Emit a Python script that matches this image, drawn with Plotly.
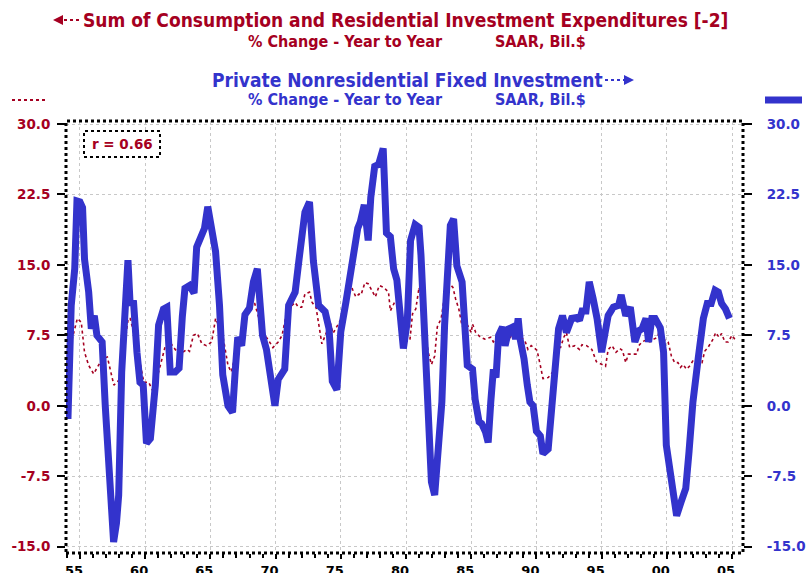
import plotly.graph_objects as go

# Private Nonresidential Fixed Investment, % chg yoy (right axis)
inv_yr = [1954.08, 1954.33, 1954.6, 1954.77, 1955.0, 1955.2, 1955.35, 1955.67, 1955.87, 1956.1,
          1956.3, 1956.7, 1956.94, 1957.2, 1957.45, 1957.58, 1957.8, 1957.97, 1958.2, 1958.47,
          1958.68, 1958.85, 1959.1, 1959.37, 1959.6, 1959.85, 1960.1, 1960.4, 1960.78, 1961.03,
          1961.4, 1961.66, 1961.92, 1962.3, 1962.6, 1962.85, 1963.05, 1963.4, 1963.75, 1963.95,
          1964.3, 1964.55, 1964.8, 1965.05, 1965.4, 1965.7, 1965.95, 1966.35, 1966.7, 1966.9,
          1967.1, 1967.4, 1967.65, 1968.0, 1968.3, 1968.6, 1968.8, 1969.0, 1969.3, 1969.6,
          1969.95, 1970.2, 1970.5, 1970.7, 1971.0, 1971.5, 1971.8, 1972.25, 1972.6, 1972.9,
          1973.3, 1973.8, 1974.1, 1974.35, 1974.7, 1975.0, 1975.4, 1975.75, 1976.3, 1976.5,
          1976.8, 1977.1, 1977.3, 1977.6, 1977.9, 1978.25, 1978.5, 1978.8, 1979.05, 1979.3,
          1979.6, 1979.8, 1980.1, 1980.35, 1980.7, 1981.0, 1981.15, 1981.5, 1981.7, 1981.95,
          1982.2, 1982.5, 1982.75, 1982.96, 1983.2, 1983.4, 1983.65, 1983.9, 1984.3, 1984.55,
          1984.7, 1985.1, 1985.3, 1985.6, 1985.8, 1986.1, 1986.3, 1986.5, 1986.7, 1986.9,
          1987.1, 1987.4, 1987.6, 1987.9, 1988.2, 1988.4, 1988.6, 1988.75, 1989.05, 1989.3,
          1989.5, 1989.75, 1990.0, 1990.3, 1990.5, 1990.9, 1991.15, 1991.4, 1991.7, 1992.0,
          1992.3, 1992.7, 1993.1, 1993.3, 1993.5, 1993.8, 1994.05, 1994.35, 1994.65, 1995.0,
          1995.2, 1995.5, 1995.9, 1996.3, 1996.5, 1996.85, 1997.2, 1997.55, 1997.85, 1998.1,
          1998.4, 1998.6, 1998.85, 1999.1, 1999.5, 1999.75, 1999.96, 2000.3, 2000.75, 2001.1,
          2001.45, 2001.7, 2002.0, 2002.4, 2002.8, 2003.1, 2003.4, 2003.7, 2003.95, 2004.2,
          2004.5, 2004.8]
inv_val = [-1.4, 10.7, 14.6, 21.8, 21.7, 21.1, 15.6, 12.1, 8.2, 9.6,
           7.5, 6.8, 0.0, -6.7, -13.0, -14.5, -12.5, -9.5, 3.6, 10.7,
           15.5, 10.7, 11.2, 5.7, 2.5, 2.2, -4.0, -3.5, 2.2, 8.6,
           10.3, 10.5, 3.6, 3.6, 4.0, 9.5, 12.5, 12.8, 12.0, 16.9,
           18.4, 18.9, 21.2, 18.9, 16.4, 10.7, 3.3, 0.0, -0.7, 3.6,
           7.3, 6.4, 9.7, 10.4, 13.2, 14.6, 11.4, 7.5, 6.0, 3.6,
           0.0, 2.8, 3.6, 3.9, 10.7, 12.1, 15.6, 20.6, 21.7, 15.4,
           10.7, 10.0, 8.2, 2.6, 1.7, 7.9, 11.1, 14.3, 18.9, 19.6,
           21.4, 17.6, 22.2, 25.5, 25.7, 27.4, 18.4, 18.0, 14.6, 13.4,
           9.3, 6.1, 9.0, 17.6, 19.3, 19.0, 16.0, 5.7, -3.2, -8.1,
           -9.5, -4.9, 0.4, 8.6, 14.9, 19.2, 19.9, 14.9, 13.2, 7.9,
           4.3, 3.9, 0.7, -1.7, -1.9, -2.8, -3.9, 0.4, 3.9, 3.0,
           7.5, 8.4, 6.4, 8.2, 8.4, 7.1, 9.3, 7.1, 5.0, 2.2,
           0.4, 0.0, -2.7, -3.2, -5.1, -4.6, -0.3, 5.0, 8.2, 9.6,
           7.8, 9.3, 9.4, 9.1, 10.1, 10.1, 13.2, 11.4, 9.3, 5.7,
           7.1, 9.6, 10.5, 10.7, 11.8, 9.6, 10.5, 6.8, 8.0, 8.2,
           9.3, 6.8, 9.3, 9.3, 8.3, 5.7, -4.2, -7.0, -11.7, -10.2,
           -8.8, -4.9, 0.4, 5.0, 9.3, 10.9, 10.9, 12.3, 12.1, 10.9,
           10.3, 9.3]

# Consumption + residential investment, % chg yoy, lagged 2 qtrs (left axis)
cons_yr = [1954.1, 1954.4, 1954.8, 1955.1, 1955.35, 1955.67, 1956.05, 1956.4, 1956.7, 1957.1,
           1957.6, 1957.97, 1958.35, 1958.7, 1958.85, 1959.25, 1959.55, 1959.9, 1960.27, 1960.65,
           1961.03, 1961.55, 1961.9, 1962.3, 1962.7, 1963.2, 1963.4, 1963.7, 1964.0, 1964.35,
           1964.7, 1965.1, 1965.4, 1965.7, 1965.95, 1966.35, 1966.6, 1966.9, 1967.1, 1967.4,
           1967.65, 1967.9, 1968.15, 1968.4, 1968.65, 1969.05, 1969.4, 1969.8, 1970.2, 1970.5,
           1970.8, 1971.05, 1971.5, 1971.75, 1972.0, 1972.25, 1972.6, 1972.8, 1973.1, 1973.55,
           1973.9, 1974.2, 1974.4, 1974.7, 1975.05, 1975.3, 1975.6, 1975.9, 1976.15, 1976.4,
           1976.55, 1976.85, 1977.1, 1977.65, 1977.95, 1978.3, 1978.66, 1978.8, 1979.15, 1979.6,
           1979.9, 1980.3, 1980.5, 1980.75, 1981.0, 1981.3, 1981.5, 1981.7, 1981.95, 1982.2,
           1982.4, 1982.7, 1982.9, 1983.2, 1983.6, 1983.8, 1984.05, 1984.3, 1984.5, 1984.75,
           1985.0, 1985.1, 1985.35, 1985.7, 1986.05, 1986.5, 1986.7, 1987.1, 1987.4, 1987.6,
           1988.0, 1988.4, 1988.75, 1989.1, 1989.35, 1989.6, 1989.8, 1990.05, 1990.3, 1990.5,
           1990.9, 1991.25, 1991.5, 1991.85, 1992.1, 1992.3, 1992.55, 1992.95, 1993.3, 1993.5,
           1993.85, 1994.25, 1994.6, 1995.0, 1995.3, 1995.5, 1995.8, 1996.1, 1996.4, 1996.6,
           1996.85, 1997.05, 1997.4, 1997.7, 1997.85, 1998.1, 1998.4, 1998.7, 1999.0, 1999.3,
           1999.45, 1999.7, 2000.1, 2000.35, 2000.6, 2000.85, 2001.05, 2001.25, 2001.5, 2001.8,
           2002.0, 2002.3, 2002.5, 2002.7, 2002.9, 2003.15, 2003.5, 2003.75, 2004.0, 2004.2,
           2004.45, 2004.7, 2005.0, 2005.25]
cons_val = [3.2, 7.1, 9.3, 8.9, 5.7, 4.3, 3.4, 4.3, 5.0, 5.2,
            2.2, 2.7, 5.7, 9.3, 9.3, 7.1, 5.0, 2.5, 2.5, 1.4,
            3.6, 6.4, 6.8, 6.0, 5.5, 6.0, 5.8, 7.5, 7.7, 6.6,
            6.4, 6.8, 9.3, 8.4, 7.5, 4.3, 3.6, 5.3, 5.7, 7.5,
            9.3, 9.8, 11.2, 10.9, 9.6, 7.7, 7.1, 6.2, 6.8, 7.5,
            9.6, 10.4, 11.0, 10.5, 10.5, 11.9, 12.1, 11.0, 10.5, 6.6,
            7.8, 8.8, 7.7, 8.4, 9.3, 11.0, 13.5, 12.4, 11.6, 11.9,
            11.8, 13.1, 13.0, 11.6, 12.8, 12.6, 12.1, 10.1, 11.1, 10.7,
            6.8, 7.0, 9.8, 10.3, 12.6, 10.3, 7.9, 5.7, 4.4, 5.3,
            8.4, 9.3, 11.2, 13.2, 12.6, 11.4, 10.3, 8.5, 8.2, 8.5,
            7.8, 8.7, 7.8, 7.3, 7.1, 7.3, 6.8, 7.3, 6.8, 7.7,
            7.3, 8.4, 7.3, 7.0, 6.0, 6.4, 6.2, 5.9, 4.3, 2.9,
            3.0, 3.6, 6.2, 6.2, 7.3, 7.8, 6.2, 6.4, 6.0, 6.5,
            6.4, 6.0, 4.7, 4.4, 4.2, 6.0, 6.4, 5.7, 6.1, 5.9,
            4.6, 5.5, 5.5, 5.5, 6.4, 6.8, 7.0, 6.8, 7.1, 7.3,
            8.2, 7.1, 6.8, 5.3, 4.6, 4.6, 4.1, 4.4, 3.9, 4.3,
            4.8, 4.1, 4.6, 4.6, 5.8, 6.2, 7.0, 7.8, 7.3, 7.7,
            6.8, 6.8, 7.5, 7.0]

y_ticks = [-15.0, -7.5, 0.0, 7.5, 15.0, 22.5, 30.0]
y_tick_text = ["-15.0", "-7.5", "0.0", "7.5", "15.0", "22.5", "30.0"]
x_ticks = [1955, 1960, 1965, 1970, 1975, 1980, 1985, 1990, 1995, 2000, 2005]
x_tick_text = ["55", "60", "65", "70", "75", "80", "85", "90", "95", "00", "05"]

RED = "#A50021"
BLUE = "#3333CC"
NARROW = "Liberation Sans Narrow, DejaVu Sans Condensed, Arial Narrow, sans-serif"
TICKF = "DejaVu Sans, Verdana, sans-serif"

W, H = 809, 573
L, R, T, B = 66, 743, 121, 553


def px(x):
    return (x - L) / (R - L)


def py(y):
    return (B - y) / (B - T)


def label(x, y, text, size, color, family=NARROW):
    fig.add_annotation(x=px(x), y=py(y), xref="paper", yref="paper", text=text,
                       showarrow=False, xanchor="center", yanchor="middle",
                       font=dict(family=family, size=size, color=color, weight="bold"))


fig = go.Figure()
fig.add_trace(go.Scatter(x=inv_yr, y=inv_val, yaxis="y2", mode="lines",
                         line=dict(color=BLUE, width=7), hoverinfo="skip"))
fig.add_trace(go.Scatter(x=cons_yr, y=cons_val, mode="lines",
                         line=dict(color=RED, width=1.6, dash="dot"), hoverinfo="skip"))

yr = [-15.67, 30.32]
fig.update_layout(
    template="none",
    width=W, height=H,
    margin=dict(l=L, r=W - R, t=T, b=H - B, autoexpand=False),
    paper_bgcolor="white", plot_bgcolor="white",
    showlegend=False,
    xaxis=dict(range=[1953.93, 2005.84], tickvals=x_ticks, ticktext=x_tick_text,
               automargin=False,
               showgrid=True, gridcolor="#c8c8c8", griddash="dot", gridwidth=1,
               zeroline=False, showline=False, ticks="outside", ticklen=5, tickwidth=2,
               tickcolor="black", ticklabelshift=-6,
               minor=dict(dtick=1, ticks="outside", ticklen=4, tickwidth=2, tickcolor="black",
                          showgrid=False),
               tickfont=dict(family=TICKF, size=13, color="black", weight="bold")),
    yaxis=dict(range=yr, tickvals=y_ticks, ticktext=y_tick_text, automargin=False,
               showgrid=True, gridcolor="#c8c8c8", griddash="dot", gridwidth=1,
               zeroline=False, showline=False, ticks="outside", ticklen=8, tickwidth=2,
               tickcolor="black", ticklabelstandoff=4,
               tickfont=dict(family=TICKF, size=13.5, color=RED, weight="bold")),
    yaxis2=dict(range=yr, tickvals=y_ticks, ticktext=y_tick_text, overlaying="y",
                side="right", showgrid=False, zeroline=False, showline=False,
                automargin=False,
                ticks="outside", ticklen=8, tickwidth=2, tickcolor="black",
                ticklabelstandoff=12,
                tickfont=dict(family=TICKF, size=13.5, color=BLUE, weight="bold")),
)

# dotted frame
fig.add_shape(type="rect", xref="paper", yref="paper", x0=0, x1=1, y0=0, y1=1,
              line=dict(color="black", width=3, dash="dot"))

# r box
fig.add_shape(type="rect", xref="paper", yref="paper", x0=px(84), x1=px(160), y0=py(157), y1=py(131),
              line=dict(color="black", width=2, dash="dot"), fillcolor="white")
label(122, 144, "r = 0.66", 13.5, RED, TICKF)

# titles
label(405, 20, "Sum of Consumption and Residential Investment Expenditures [-2]", 19, RED)
label(407, 80, "Private Nonresidential Fixed Investment", 19, BLUE)
for yy, col in [(41, RED), (100, BLUE)]:
    label(345, yy, "% Change - Year to Year", 16, col)
    label(540, yy, "SAAR, Bil.$", 16, col)

# arrows next to titles
fig.add_shape(type="line", xref="paper", yref="paper", x0=px(58), x1=px(80), y0=py(20), y1=py(20),
              line=dict(color=RED, width=2, dash="dot"))
fig.add_annotation(x=px(53), y=py(20), xref="paper", yref="paper", ax=8, ay=0, text="",
                   showarrow=True, arrowhead=2, arrowsize=1, arrowwidth=2, arrowcolor=RED)
fig.add_shape(type="line", xref="paper", yref="paper", x0=px(605), x1=px(628), y0=py(80), y1=py(80),
              line=dict(color=BLUE, width=2, dash="dot"))
fig.add_annotation(x=px(634), y=py(80), xref="paper", yref="paper", ax=-8, ay=0, text="",
                   showarrow=True, arrowhead=2, arrowsize=1, arrowwidth=2, arrowcolor=BLUE)

# line keys
fig.add_shape(type="line", xref="paper", yref="paper", x0=px(12), x1=px(48), y0=py(100), y1=py(100),
              line=dict(color=RED, width=2, dash="dot"))
fig.add_shape(type="line", xref="paper", yref="paper", x0=px(765), x1=px(802), y0=py(100), y1=py(100),
              line=dict(color=BLUE, width=7))

# the page's default 8px body margin would shift the whole chart
fig.write_html("out.html", config={"displayModeBar": False},
               post_script="document.body.style.margin='0';")
